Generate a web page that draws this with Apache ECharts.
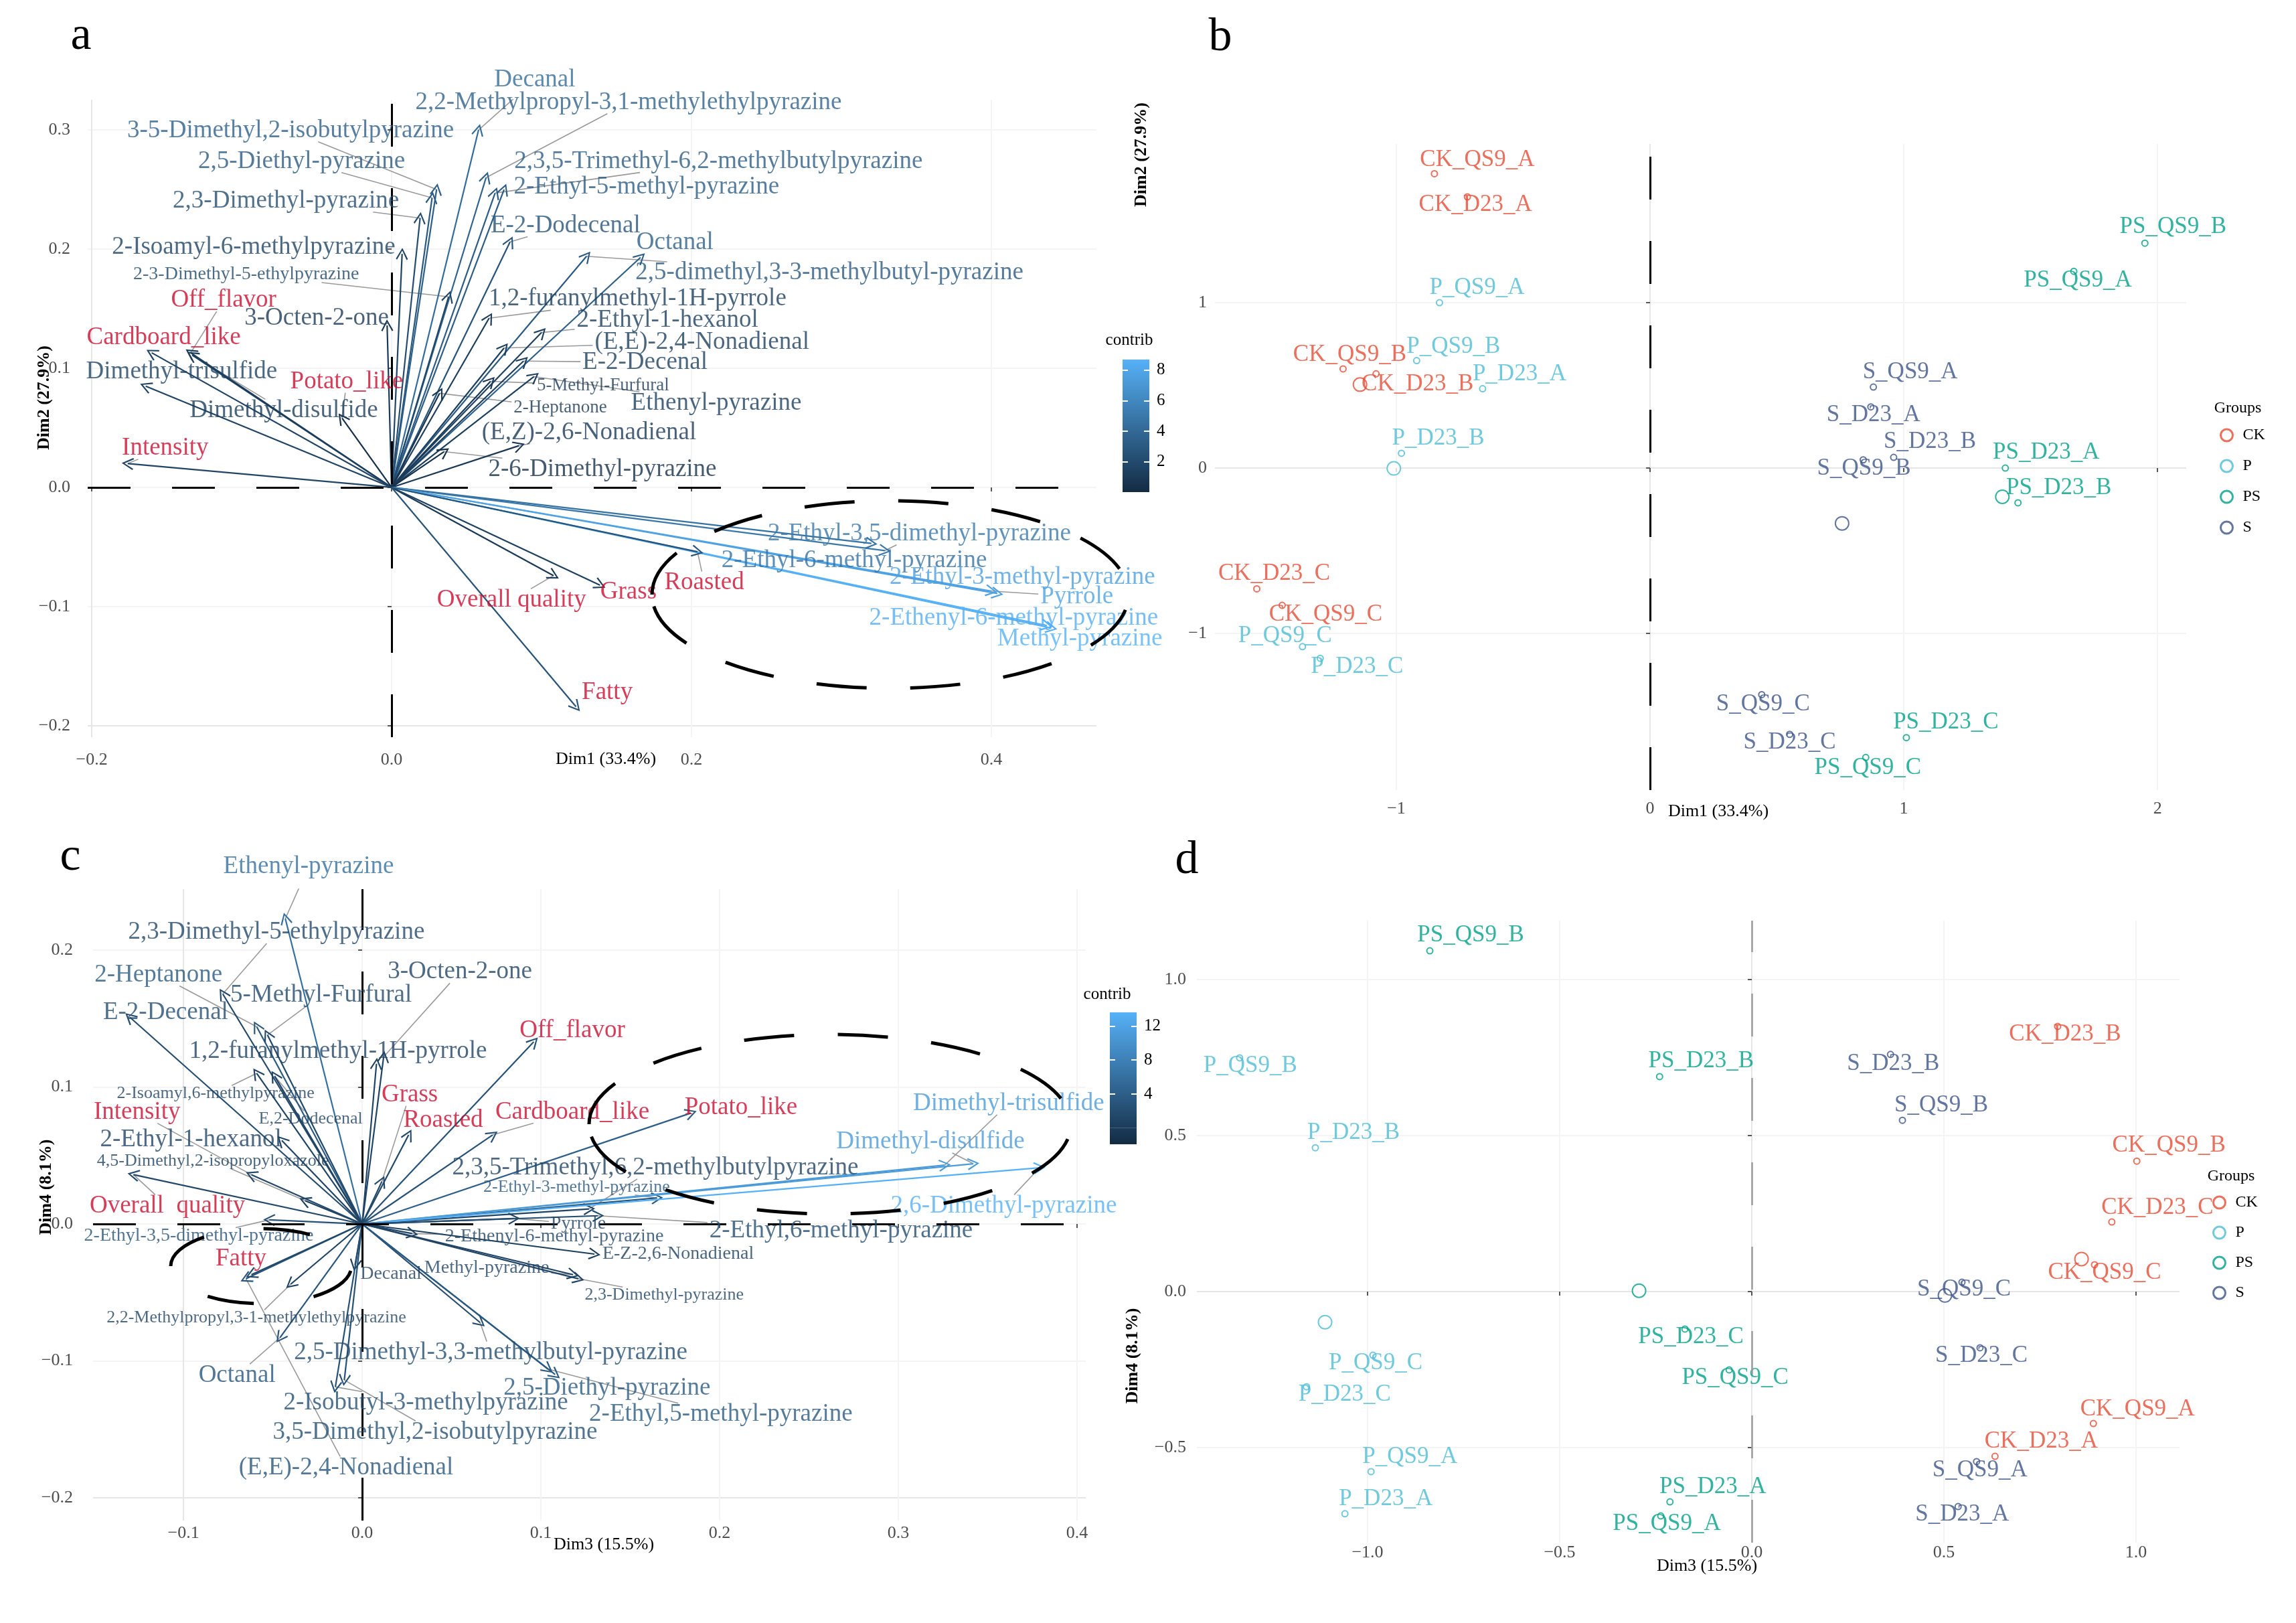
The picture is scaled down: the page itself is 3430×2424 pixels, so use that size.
<!DOCTYPE html>
<html>
<head>
<meta charset="utf-8">
<script src="https://cdn.jsdelivr.net/npm/echarts@6/dist/echarts.min.js"></script>
<style>html,body{margin:0;padding:0;background:#fff}#chart{width:3430px;height:2424px}</style>
</head>
<body>
<div id="chart"></div>
<script>
// ---------------- DATA ----------------
// Panel a: variable coordinates on Dim1 / Dim2 and their contribution
const aNames = ['Decanal','2,2-Methylpropyl-3,1-methylethylpyrazine','3-5-Dimethyl,2-isobutylpyrazine','2,5-Diethyl-pyrazine',
 '2,3,5-Trimethyl-6,2-methylbutylpyrazine','2-Ethyl-5-methyl-pyrazine','2,3-Dimethyl-pyrazine','E-2-Dodecenal','Octanal',
 '2-Isoamyl-6-methylpyrazine','2,5-dimethyl,3-3-methylbutyl-pyrazine','2-3-Dimethyl-5-ethylpyrazine','1,2-furanylmethyl-1H-pyrrole',
 '3-Octen-2-one','2-Ethyl-1-hexanol','(E,E)-2,4-Nonadienal','E-2-Decenal','5-Methyl-Furfural','Ethenyl-pyrazine','2-Heptanone',
 '(E,Z)-2,6-Nonadienal','Dimethyl-trisulfide','Dimethyl-disulfide','2-6-Dimethyl-pyrazine','2-Ethyl-3,5-dimethyl-pyrazine',
 '2-Ethyl-6-methyl-pyrazine','2-Ethyl-3-methyl-pyrazine','Pyrrole','2-Ethenyl-6-methyl-pyrazine','Methyl-pyrazine',
 'Off_flavor','Cardboard_like','Potato_like','Intensity','Overall quality','Grass','Roasted','Fatty'];
const aDim1 = [0.058,0.063,0.030,0.027,0.069,0.075,0.019,0.079,0.166,0.007,0.130,0.038,0.065,-0.003,0.100,0.075,0.088,0.066,0.095,0.032,
 0.085,-0.164,-0.133,0.035,0.329,0.320,0.404,0.400,0.440,0.437,-0.134,-0.160,-0.033,-0.176,0.108,0.139,0.204,0.123];
const aDim2 = [0.300,0.260,0.250,0.243,0.247,0.250,0.226,0.206,0.193,0.196,0.194,0.160,0.142,0.136,0.130,0.117,0.106,0.089,0.093,0.079,
 0.035,0.085,0.111,0.030,-0.053,-0.047,-0.089,-0.087,-0.118,-0.116,0.113,0.113,0.058,0.020,-0.074,-0.082,-0.054,-0.184];
const aContrib = [4.2,3.6,3.4,3.0,3.2,3.2,2.2,2.6,3.4,1.6,3.0,1.8,1.2,1.0,1.4,1.3,1.3,0.9,1.3,0.6,0.9,1.6,1.2,0.3,5.0,4.6,7.6,7.8,8.5,8.7,
 1.2,1.7,0.3,1.7,0.9,1.4,2.6,2.6];

// Panel c: variable coordinates on Dim3 / Dim4 and their contribution
const cNames = ['Ethenyl-pyrazine','2,3-Dimethyl-5-ethylpyrazine','2-Heptanone','3-Octen-2-one','5-Methyl-Furfural','E-2-Decenal',
 '1,2-furanylmethyl-1H-pyrrole','2-Isoamyl,6-methylpyrazine','E,2-Dodecenal','2-Ethyl-1-hexanol','4,5-Dimethyl,2-isopropyloxazole',
 '2,3,5-Trimethyl,6,2-methylbutylpyrazine','2-Ethyl-3-methyl-pyrazine','Dimethyl-trisulfide','Dimethyl-disulfide','2,6-Dimethyl-pyrazine',
 '2-Ethyl-3,5-dimethyl-pyrazine','Pyrrole','2-Ethenyl-6-methyl-pyrazine','E-Z-2,6-Nonadienal','Methyl-pyrazine','Decanal',
 '2,3-Dimethyl-pyrazine','2,2-Methylpropyl,3-1-methylethylpyrazine','2,5-Dimethyl-3,3-methylbutyl-pyrazine','Octanal','2,5-Diethyl-pyrazine',
 '2-Isobutyl-3-methylpyrazine','2-Ethyl,5-methyl-pyrazine','3,5-Dimethyl,2-isobutylpyrazine','(E,E)-2,4-Nonadienal','2-Ethyl,6-methyl-pyrazine',
 'Off_flavor','Grass','Intensity','Cardboard_like','Roasted','Potato_like','Overall  quality','Fatty'];
const cDim3 = [-0.043,-0.078,-0.059,0.012,-0.053,-0.130,0.008,-0.059,-0.049,-0.045,-0.032,0.127,0.165,0.326,0.342,0.379,-0.052,0.085,0.028,0.130,
 0.118,-0.004,0.121,-0.040,0.066,-0.046,0.108,-0.015,0.104,-0.010,-0.065,0.132,0.096,0.011,-0.062,0.073,0.026,0.184,-0.128,-0.062];
const cDim4 = [0.223,0.168,0.144,0.122,0.138,0.151,0.117,0.110,0.108,0.061,0.017,0.011,0.019,0.043,0.044,0.041,0.003,0.004,-0.007,-0.022,
 -0.037,-0.030,-0.040,-0.044,-0.072,-0.083,-0.110,-0.119,-0.106,-0.114,-0.040,0.006,0.133,0.031,0.036,0.065,0.065,0.081,0.036,-0.037];
const cContrib = [6,1.5,3.5,1,1.5,2,1,1,1,1,0.5,1,3,11,11,13.5,2.5,1,1,0.5,1,0.3,1,1,2,3,3.5,2.5,3.5,2.5,3,2,2.5,1.5,1.5,2.5,1.5,4,1.5,1.5];

const sensoryNames = ['Off_flavor','Cardboard_like','Potato_like','Intensity','Overall quality','Overall  quality','Grass','Roasted','Fatty'];

// Panels b and d: individuals
const samples = ['CK_QS9_A','CK_D23_A','CK_QS9_B','CK_D23_B','CK_QS9_C','CK_D23_C',
 'P_QS9_A','P_D23_A','P_QS9_B','P_D23_B','P_QS9_C','P_D23_C',
 'PS_QS9_A','PS_D23_A','PS_QS9_B','PS_D23_B','PS_QS9_C','PS_D23_C',
 'S_QS9_A','S_D23_A','S_QS9_B','S_D23_B','S_QS9_C','S_D23_C'];
const groups = ['CK','P','PS','S'];
const bDim1 = [-0.85,-0.72,-1.21,-1.08,-1.45,-1.55, -0.83,-0.66,-0.92,-0.98,-1.37,-1.30, 1.67,1.40,1.95,1.45,0.85,1.01, 0.88,0.87,0.84,0.96,0.44,0.55];
const bDim2 = [1.78,1.64,0.60,0.57,-0.83,-0.73, 1.00,0.48,0.65,0.09,-1.08,-1.15, 1.19,0.00,1.36,-0.21,-1.75,-1.63, 0.49,0.37,0.05,0.065,-1.37,-1.61];
const dDim3 = [0.889,0.633,1.002,0.796,0.892,0.937, -0.991,-1.059,-1.333,-1.136,-0.986,-1.159, -0.237,-0.213,-0.838,-0.240,-0.059,-0.174, 0.585,0.537,0.392,0.361,0.547,0.594];
const dDim4 = [-0.423,-0.528,0.418,0.850,0.086,0.223, -0.577,-0.712,0.749,0.461,-0.204,-0.305, -0.719,-0.674,1.092,0.689,-0.251,-0.120, -0.545,-0.689,0.549,0.760,0.030,-0.180];

// Tick values
const aXTicks = [-0.2,0,0.2,0.4], aYTicks = [-0.2,-0.1,0,0.1,0.2,0.3];
const bXTicks = [-1,0,1,2], bYTicks = [-1,0,1];
const cXTicks = [-0.1,0,0.1,0.2,0.3,0.4], cYTicks = [-0.2,-0.1,0,0.1,0.2];
const dXTicks = [-1,-0.5,0,0.5,1], dYTicks = [-0.5,0,0.5,1];
const aBarTicks = [2,4,6,8], cBarTicks = [4,8,12];

// ---------------- LAYOUT (label placement, not data) ----------------
const aLabelX = [0.0955,0.158,-0.0674,-0.060,0.218,0.170,-0.0705,0.116,0.189,-0.092,0.292,-0.097,0.164,-0.050,0.184,0.207,0.169,0.141,0.2165,0.1125,
 0.1317,-0.140,-0.0719,0.1406,0.352,0.3085,0.4207,0.457,0.4149,0.459,-0.112,-0.152,-0.030,-0.151,0.080,0.158,0.2085,0.1438];
const aLabelY = [0.342,0.323,0.2994,0.2736,0.2736,0.252,0.2404,0.2197,0.2056,0.2017,0.180,0.179,0.158,0.142,0.1404,0.122,0.105,0.0854,0.0708,0.0669,
 0.0461,0.097,0.0646,0.0152,-0.0388,-0.0612,-0.0753,-0.0916,-0.1096,-0.127,0.157,0.1258,0.0888,0.033,-0.0944,-0.088,-0.080,-0.172];
const aLabelSize = aNames.map((n,i)=> (i===11 ? 28 : (i===17||i===19) ? 27 : 37));
const cLabelX = [-0.030,-0.048,-0.114,0.0547,-0.023,-0.110,-0.0135,-0.082,-0.0288,-0.0959,-0.0835,0.164,0.120,0.3618,0.318,0.359,-0.0914,0.121,0.1075,0.1768,
 0.0697,0.0161,0.169,-0.0592,0.0719,-0.070,0.137,0.0356,0.2007,0.0408,-0.009,0.268,0.1176,0.0266,-0.126,0.1176,0.0453,0.212,-0.109,-0.0678];
const cLabelY = [0.261,0.213,0.182,0.184,0.167,0.1545,0.126,0.0954,0.0768,0.0616,0.046,0.041,0.0269,0.088,0.060,0.0132,-0.0088,0.0,-0.0093,-0.022,
 -0.032,-0.0367,-0.0518,-0.0685,-0.094,-0.1105,-0.120,-0.1306,-0.139,-0.152,-0.178,-0.005,0.1413,0.0944,0.0817,0.0817,0.0758,0.0851,0.0132,-0.0254];
const cLabelSize = [37,37,37,37,37,37,37,26,26,37,26,37,26,37,37,37,28,28,28,28,28,28,26,26,37,37,37,37,37,37,37,37,37,37,37,37,37,37,37,37];
// label offsets (px) for individuals
const bLabelOff = [[64,-21],[12,12],[10,-21],[62,15],[65,14],[26,-23],[56,-22],[55,-22],[55,-21],[55,-22],[-26,-16],[55,13],
 [6,14],[61,-23],[42,-24],[61,-22],[3,15],[59,-23],[55,-22],[4,12],[1,13],[54,-23],[2,14],[0,12]];
const dLabelOff = [[66,-21],[69,-22],[48,-23],[11,12],[15,12],[68,-21],[58,-22],[61,-22],[16,12],[57,-22],[4,12],[57,12],
 [9,12],[64,-22],[61,-23],[62,-23],[9,12],[9,12],[5,13],[6,12],[58,-22],[4,14],[3,11],[2,12]];

// ---------------- STYLE ----------------
const FONT = '"Liberation Serif", "Times New Roman", serif';
const LOW = '#132B43', HIGH = '#56B1F7';
const RED = '#CB0C2F';
const GROUP_COLORS = {CK:'#E64B35', P:'#4DBBD5', PS:'#00A087', S:'#3C5488'};
const aRange = [0, 8.7], cRange = [-1.9, 13.6];
const ARROW = 'path://M10,0 L20,18 L18,19.6 L10,4.6 L2,19.6 L0,18 Z';
const BAR_A = {left:1677, top:537, width:40, height:198};
const BAR_C = {left:1658, top:1512, width:40, height:197};
const GRID_FAINT = '#f4f4f4', GRID_MID = '#e6e6e6';

function cColor(v, r){ const t = Math.max(0, Math.min(1, (v - r[0]) / (r[1] - r[0]))); return echarts.color.lerp(t, [LOW, HIGH]); }
function fmt1(v){ const s = Math.abs(v) < 1e-9 ? '0.0' : v.toFixed(1); return s.replace('-', '\u2212'); }
function fmt0(v){ const s = Math.abs(v) < 1e-9 ? '0' : String(Math.round(v)); return s.replace('-', '\u2212'); }
const sampleGroup = samples.map(s => s.split('_')[0]);

// gridline colours per tick: emphasised tick gets the mid grey
function gridColors(ticks, strongValue){ return ticks.map(t => Math.abs(t - strongValue) < 1e-9 ? GRID_MID : GRID_FAINT); }
function mkAxis(gridIndex, min, max, ticks, fmt, margin, strong){
  return {gridIndex, type:'value', min, max,
    axisLine:{show:false},
    axisTick:{show:true, customValues:ticks, length:6, lineStyle:{color:'#555', width:2}},
    axisLabel:{show:true, customValues:ticks, formatter:fmt, margin, fontSize:26, color:'#4d4d4d', fontFamily:FONT},
    splitLine:{show:true, lineStyle:{color:gridColors(ticks, strong), width:2}}};
}
function barAxes(gridIndex, r, ticks){
  return [
    {gridIndex, type:'value', min:r[0], max:r[1], position:'right', axisLine:{show:false}, splitLine:{show:false},
     axisTick:{show:true, inside:true, length:8, customValues:ticks, lineStyle:{color:'#fff', width:2}},
     axisLabel:{show:true, customValues:ticks, margin:11, fontSize:25, color:'#000', fontFamily:FONT}},
    {gridIndex, type:'value', min:r[0], max:r[1], position:'left', axisLine:{show:false}, splitLine:{show:false},
     axisTick:{show:true, inside:true, length:8, customValues:ticks, lineStyle:{color:'#fff', width:2}},
     axisLabel:{show:false}}
  ];
}
function refSeries(idx, lines, color, width){
  return {type:'scatter', xAxisIndex:idx, yAxisIndex:idx, data:[[0,0]], symbolSize:0, silent:true, z:1,
    itemStyle:{color:'rgba(0,0,0,0)'},
    markLine:{silent:true, symbol:['none','none'], label:{show:false}, animation:false,
      lineStyle:{color, width, type:[64,62]}, data:lines}};
}
function arrowSeries(id, idx, names, xs, ys, contrib, range){
  return {id, type:'lines', coordinateSystem:'cartesian2d', xAxisIndex:idx, yAxisIndex:idx, silent:true, z:3,
    symbol:['none', ARROW], symbolSize:18, lineStyle:{width:2.2, opacity:1},
    data: names.map((n,i)=>({name:n, coords:[[0,0],[xs[i],ys[i]]], lineStyle:{color:cColor(contrib[i], range), width:2.2}}))};
}
function labelSeries(id, idx, names, lx, ly, sizes, contrib, range){
  return {id, type:'scatter', xAxisIndex:idx, yAxisIndex:idx, silent:true, clip:false, z:5, symbolSize:1,
    itemStyle:{color:'rgba(0,0,0,0)'},
    label:{show:true, position:'inside', formatter:'{b}', fontFamily:FONT, textBorderWidth:0},
    data: names.map((n,i)=>({name:n, value:[lx[i], ly[i]],
      label:{color: sensoryNames.includes(n) ? RED : cColor(contrib[i], range), fontSize:sizes[i]}}))};
}
function groupSeries(idx, xs, ys, offs){
  return groups.map(g => ({name:g, type:'scatter', xAxisIndex:idx, yAxisIndex:idx, silent:true, clip:false, z:4,
    symbol:'emptyCircle', symbolSize:9, itemStyle:{color:GROUP_COLORS[g], borderWidth:1.6},
    label:{show:true, position:'inside', formatter:'{b}', color:GROUP_COLORS[g], fontSize:35, fontFamily:FONT, textBorderWidth:0},
    data: samples.map((s,i)=>({s,i})).filter(o=>sampleGroup[o.i]===g)
      .map(o=>({name:o.s, value:[xs[o.i], ys[o.i]], label:{offset:offs[o.i]}}))}));
}
function meanSeries(idx, xs, ys){
  return {name:'group means', type:'scatter', xAxisIndex:idx, yAxisIndex:idx, silent:true, z:3,
    symbol:'emptyCircle', symbolSize:20, itemStyle:{borderWidth:1.6},
    data: groups.map(g => {
      const ids = samples.map((s,i)=>i).filter(i=>sampleGroup[i]===g);
      const mx = ids.reduce((a,i)=>a+xs[i],0)/ids.length, my = ids.reduce((a,i)=>a+ys[i],0)/ids.length;
      return {name:g, value:[mx,my], itemStyle:{color:GROUP_COLORS[g]}};
    })};
}
// colour bar: stacked bars spanning the scale range, filled with one shared gradient
function barSeries(xIdx, yIdx, r, box){
  const grad = new echarts.graphic.LinearGradient(0, box.top, 0, box.top + box.height,
    [{offset:0, color:HIGH}, {offset:1, color:LOW}], true);
  const common = {type:'bar', xAxisIndex:xIdx, yAxisIndex:yIdx, silent:true, z:-1, stack:'bar'+xIdx,
    barWidth:'100%', itemStyle:{color:grad}, label:{show:false}};
  const out = [Object.assign({}, common, {data:[r[1]]})];
  if (r[0] < 0) out.push(Object.assign({}, common, {data:[r[0]]}));
  return out;
}
function txt(x, y, text, size, opts, weight){
  return Object.assign({type:'text', x, y, silent:true, z:10,
    style:{text, fontSize:size, fontFamily:FONT, fontWeight:weight||'normal', fill:'#000', align:'center', verticalAlign:'middle'}}, opts||{});
}
function legendCfg(left, top, gap){
  return {data: groups.map(g=>({name:g, icon:'circle', itemStyle:{color:'#fff', borderColor:GROUP_COLORS[g], borderWidth:3}})),
    orient:'vertical', left, top, itemWidth:18, itemHeight:18, itemGap:gap, padding:0, selectedMode:false,
    textStyle:{fontFamily:FONT, fontSize:24, color:'#000', padding:[0,0,0,10]}};
}

const chart = echarts.init(document.getElementById('chart'), null, {renderer:'canvas'});
const option = {
  backgroundColor:'#fff', animation:false,
  textStyle:{fontFamily:FONT},
  grid:[
    {left:131, top:149, width:1507, height:952, outerBoundsMode:'none'},
    {left:1815, top:215, width:1451, height:965, outerBoundsMode:'none'},
    {left:139, top:1328, width:1483, height:943, outerBoundsMode:'none'},
    {left:1788, top:1375, width:1468, height:929, outerBoundsMode:'none'},
    Object.assign({outerBoundsMode:'none'}, BAR_A),
    Object.assign({outerBoundsMode:'none'}, BAR_C)
  ],
  xAxis:[
    mkAxis(0, -0.2027, 0.4701, aXTicks, fmt1, 21, -0.2),
    mkAxis(1, -1.715, 2.113, bXTicks, fmt0, 15, 0),
    mkAxis(2, -0.1506, 0.4049, cXTicks, fmt1, 6, -0.1),
    mkAxis(3, -1.4443, 1.1132, dXTicks, fmt1, 2, 0),
    {gridIndex:4, type:'category', data:['contrib'], show:false},
    {gridIndex:5, type:'category', data:['contrib'], show:false}
  ],
  yAxis:[
    mkAxis(0, -0.2096, 0.3253, aYTicks, fmt1, 26, -0.2),
    mkAxis(1, -1.947, 1.960, bYTicks, fmt0, 12, 0),
    mkAxis(2, -0.2166, 0.2445, cYTicks, fmt1, 30, -0.2),
    mkAxis(3, -0.8047, 1.1888, dYTicks, fmt1, 16, 0),
    ...barAxes(4, aRange, aBarTicks),   // yAxis 4 (right), 5 (left)
    ...barAxes(5, cRange, cBarTicks)    // yAxis 6 (right), 7 (left)
  ],
  legend:[legendCfg(3316, 638, 22), legendCfg(3305, 1784, 21)],
  series:[
    refSeries(0, [{xAxis:0},{yAxis:0}], '#000', 3),
    arrowSeries('aArrows', 0, aNames, aDim1, aDim2, aContrib, aRange),
    {id:'aLeaders', type:'lines', coordinateSystem:'cartesian2d', xAxisIndex:0, yAxisIndex:0, silent:true, z:2,
      symbol:'none', lineStyle:{color:'#9a9a9a', width:1.6, opacity:1}, data:[]},
    labelSeries('aLabels', 0, aNames, aLabelX, aLabelY, aLabelSize, aContrib, aRange),

    refSeries(1, [{xAxis:0}], '#000', 3),
    ...groupSeries(1, bDim1, bDim2, bLabelOff),
    meanSeries(1, bDim1, bDim2),

    refSeries(2, [{xAxis:0},{yAxis:0}], '#000', 3),
    arrowSeries('cArrows', 2, cNames, cDim3, cDim4, cContrib, cRange),
    {id:'cLeaders', type:'lines', coordinateSystem:'cartesian2d', xAxisIndex:2, yAxisIndex:2, silent:true, z:2,
      symbol:'none', lineStyle:{color:'#9a9a9a', width:1.6, opacity:1}, data:[]},
    labelSeries('cLabels', 2, cNames, cLabelX, cLabelY, cLabelSize, cContrib, cRange),

    refSeries(3, [{xAxis:0}], '#9c9c9c', 2.5),
    ...groupSeries(3, dDim3, dDim4, dLabelOff),
    meanSeries(3, dDim3, dDim4),

    ...barSeries(4, 4, aRange, BAR_A),
    ...barSeries(5, 6, cRange, BAR_C)
  ],
  graphic:{elements:[
    txt(121, 55, 'a', 70), txt(1823, 57, 'b', 70), txt(105, 1281, 'c', 70), txt(1773, 1286, 'd', 70),
    txt(905, 1134, 'Dim1 (33.4%)', 26),
    txt(66, 594, 'Dim2 (27.9%)', 26, {rotation:Math.PI/2}, 'bold'),
    txt(2567, 1212, 'Dim1 (33.4%)', 26),
    txt(1705, 231, 'Dim2 (27.9%)', 26, {rotation:Math.PI/2}, 'bold'),
    txt(902, 2307, 'Dim3 (15.5%)', 26),
    txt(69, 1773, 'Dim4 (8.1%)', 26, {rotation:Math.PI/2}, 'bold'),
    txt(2550, 2339, 'Dim3 (15.5%)', 26),
    txt(1692, 2025, 'Dim4 (8.1%)', 26, {rotation:Math.PI/2}, 'bold'),
    txt(1687, 508, 'contrib', 25), txt(1654, 1485, 'contrib', 25),
    txt(3343, 610, 'Groups', 24), txt(3333, 1757, 'Groups', 24),
    {type:'ellipse', silent:true, z:6, shape:{cx:1330, cy:888, rx:356, ry:140},
      style:{fill:'none', stroke:'#000', lineWidth:5, lineDash:[75,65]}},
    {type:'ellipse', silent:true, z:6, shape:{cx:1240, cy:1679, rx:360, ry:134},
      style:{fill:'none', stroke:'#000', lineWidth:5, lineDash:[75,65]}},
    {type:'ellipse', silent:true, z:6, shape:{cx:390, cy:1891, rx:135, ry:56},
      style:{fill:'none', stroke:'#000', lineWidth:5, lineDash:[70,90]}}
  ]}
};
chart.setOption(option);

// leader lines (label edge -> arrow tip), computed from rendered geometry
function leaders(gridIndex, names, xs, ys, lx, ly, sizes){
  const ctx = document.createElement('canvas').getContext('2d');
  const out = [];
  names.forEach((n,i) => {
    const tp = chart.convertToPixel({gridIndex}, [xs[i], ys[i]]);
    const lp = chart.convertToPixel({gridIndex}, [lx[i], ly[i]]);
    ctx.font = sizes[i] + 'px "Liberation Serif"';
    const hw = ctx.measureText(n).width/2 + 3, hh = sizes[i]*0.45;
    const dx = tp[0]-lp[0], dy = tp[1]-lp[1];
    let t = Infinity;
    if (Math.abs(dx) > 1e-6) t = Math.min(t, hw/Math.abs(dx));
    if (Math.abs(dy) > 1e-6) t = Math.min(t, hh/Math.abs(dy));
    if (!(t < 1)) return;
    const ex = lp[0]+dx*t, ey = lp[1]+dy*t;
    if (Math.hypot(tp[0]-ex, tp[1]-ey) < 16) return;
    out.push({coords:[chart.convertFromPixel({gridIndex}, [ex, ey]), [xs[i], ys[i]]]});
  });
  return out;
}
chart.setOption({series:[
  {id:'aLeaders', data:leaders(0, aNames, aDim1, aDim2, aLabelX, aLabelY, aLabelSize)},
  {id:'cLeaders', data:leaders(2, cNames, cDim3, cDim4, cLabelX, cLabelY, cLabelSize)}
]});
</script>
</body>
</html>
